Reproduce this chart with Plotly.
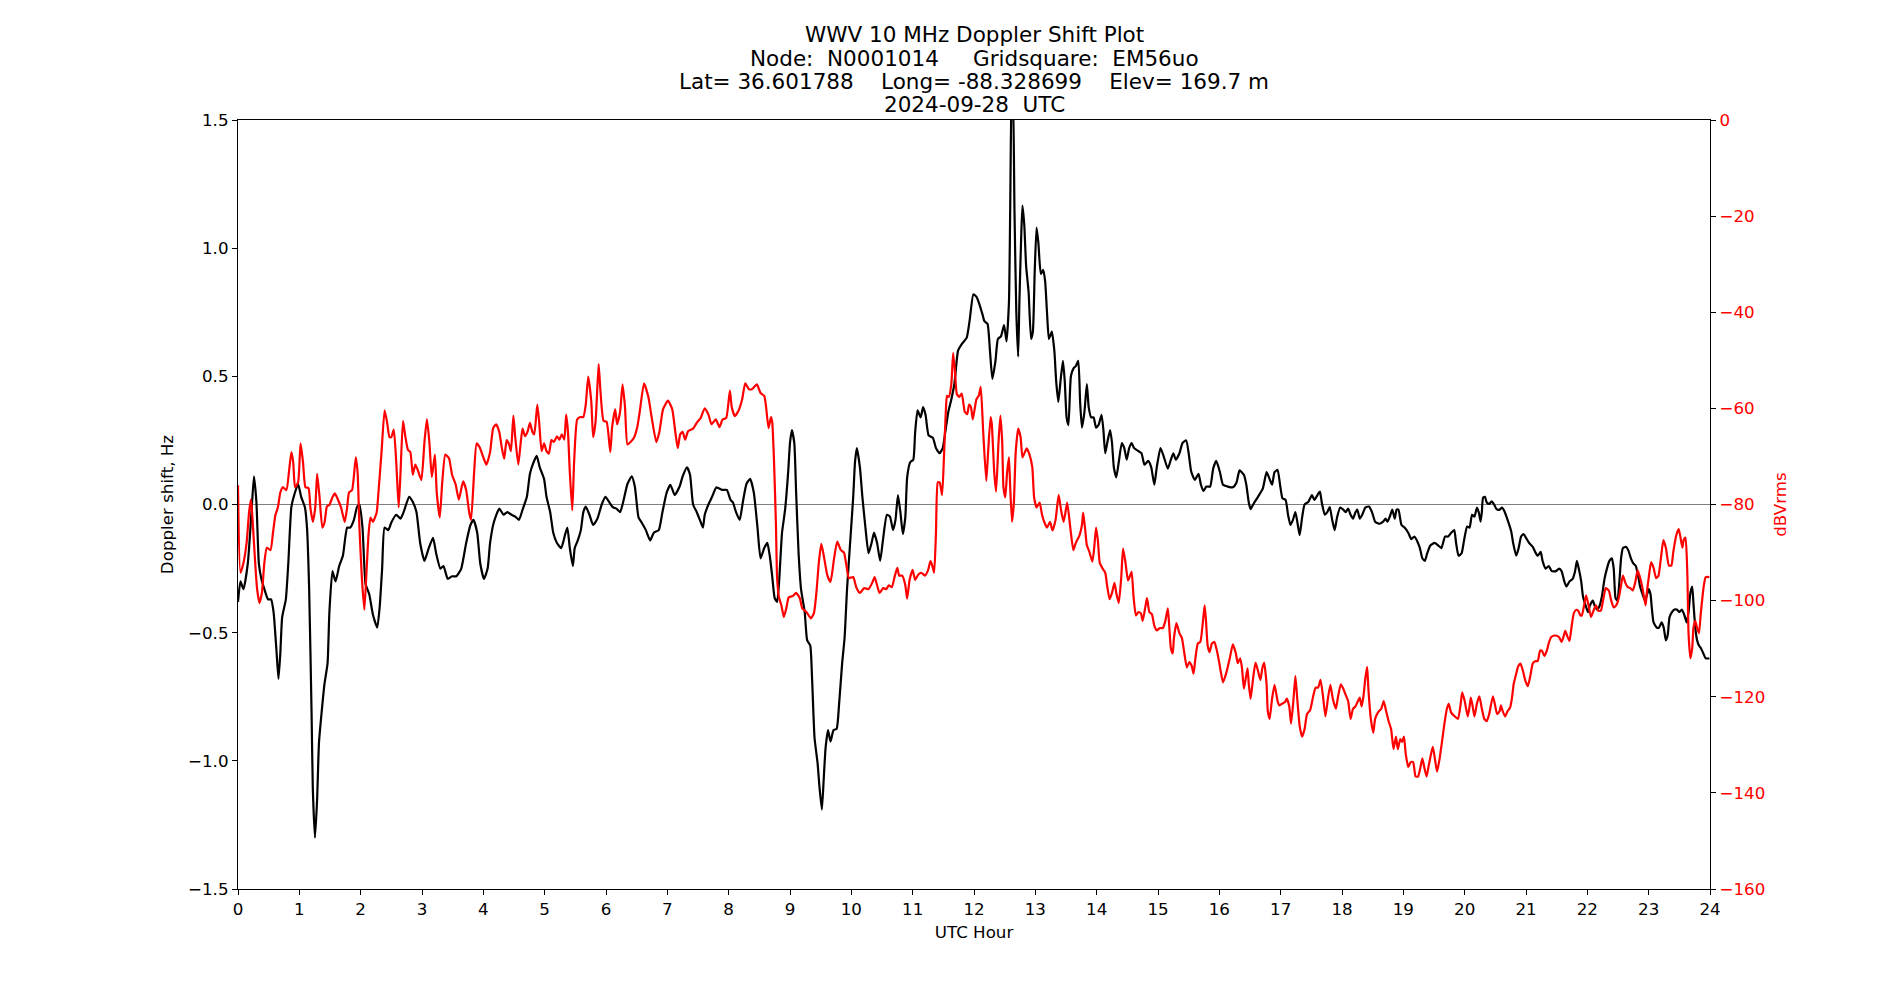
import plotly.graph_objects as go

# ---------------- data ----------------
title_lines = [
    "WWV 10 MHz Doppler Shift Plot",
    "Node:  N0001014     Gridsquare:  EM56uo",
    "Lat= 36.601788    Long= -88.328699    Elev= 169.7 m",
    "2024-09-28  UTC",
]
x_label = "UTC Hour"
y_label = "Doppler shift, Hz"
y2_label = "dBVrms"

x_ticks = list(range(0, 25))
y_ticks = [-1.5, -1.0, -0.5, 0.0, 0.5, 1.0, 1.5]
y2_ticks = [-160, -140, -120, -100, -80, -60, -40, -20, 0]

doppler_hours = [
    0.00, 0.04, 0.09, 0.16, 0.22, 0.26, 0.30, 0.34, 0.38, 0.43, 0.49, 0.54, 0.58, 0.63, 0.66, 0.69, 0.72, 0.78, 0.82, 0.87,
    0.92, 0.98, 1.03, 1.09, 1.125, 1.16, 1.20, 1.22, 1.255, 1.29, 1.32, 1.36, 1.41, 1.46, 1.49, 1.54, 1.59, 1.65, 1.71, 1.78,
    1.83, 1.89, 1.94, 1.98, 2.03, 2.08, 2.14, 2.20, 2.27, 2.31, 2.35, 2.39, 2.45, 2.50, 2.58, 2.65, 2.70, 2.79, 2.85, 2.91,
    2.97, 3.04, 3.11, 3.18, 3.23, 3.30, 3.35, 3.42, 3.49, 3.56, 3.64, 3.72, 3.79, 3.84, 3.90, 3.95, 4.01, 4.07, 4.11, 4.17,
    4.26, 4.33, 4.39, 4.46, 4.52, 4.58, 4.64, 4.71, 4.76, 4.82, 4.87, 4.92, 4.99, 5.03, 5.09, 5.14, 5.20, 5.27, 5.33, 5.37,
    5.41, 5.46, 5.49, 5.54, 5.59, 5.63, 5.67, 5.73, 5.79, 5.86, 5.93, 5.99, 6.05, 6.11, 6.17, 6.23, 6.28, 6.35, 6.42, 6.47,
    6.53, 6.58, 6.65, 6.72, 6.78, 6.86, 6.92, 6.99, 7.05, 7.12, 7.20, 7.25, 7.32, 7.37, 7.42, 7.48, 7.53, 7.58, 7.61, 7.67,
    7.73, 7.80, 7.89, 7.97, 8.03, 8.07, 8.12, 8.18, 8.23, 8.29, 8.35, 8.41, 8.47, 8.52, 8.58, 8.63, 8.67, 8.71, 8.75, 8.79,
    8.82, 8.87, 8.92, 8.97, 9.00, 9.03, 9.07, 9.10, 9.14, 9.18, 9.24, 9.28, 9.33, 9.36, 9.40, 9.45, 9.48, 9.52, 9.55, 9.58,
    9.62, 9.66, 9.71, 9.76, 9.80, 9.85, 9.89, 9.93, 9.98, 10.03, 10.06, 10.09, 10.14, 10.18, 10.23, 10.28, 10.33, 10.37, 10.42, 10.47,
    10.52, 10.58, 10.63, 10.68, 10.72, 10.76, 10.80, 10.84, 10.88, 10.91, 10.96, 11.01, 11.04, 11.08, 11.13, 11.17, 11.21, 11.26, 11.33, 11.38,
    11.44, 11.49, 11.53, 11.58, 11.63, 11.68, 11.74, 11.80, 11.88, 11.93, 11.99, 12.04, 12.09, 12.14, 12.17, 12.22, 12.26, 12.30, 12.35, 12.39,
    12.44, 12.49, 12.53, 12.57, 12.59, 12.61, 12.635, 12.66, 12.69, 12.72, 12.74, 12.77, 12.79, 12.82, 12.85, 12.89, 12.93, 12.96, 12.99, 13.02,
    13.05, 13.09, 13.13, 13.16, 13.19, 13.22, 13.24, 13.27, 13.31, 13.34, 13.375, 13.41, 13.45, 13.48, 13.51, 13.54, 13.58, 13.63, 13.66, 13.70,
    13.73, 13.76, 13.80, 13.84, 13.87, 13.91, 13.95, 13.99, 14.03, 14.08, 14.11, 14.14, 14.18, 14.22, 14.25, 14.28, 14.32, 14.36, 14.41, 14.45,
    14.49, 14.53, 14.57, 14.61, 14.67, 14.73, 14.78, 14.84, 14.89, 14.94, 14.98, 15.04, 15.09, 15.16, 15.21, 15.25, 15.29, 15.35, 15.40, 15.46,
    15.50, 15.54, 15.60, 15.66, 15.70, 15.74, 15.79, 15.85, 15.90, 15.95, 16.01, 16.06, 16.14, 16.22, 16.28, 16.33, 16.40, 16.44, 16.48, 16.51,
    16.57, 16.63, 16.71, 16.77, 16.81, 16.86, 16.90, 16.95, 16.99, 17.03, 17.08, 17.12, 17.16, 17.20, 17.24, 17.28, 17.31, 17.35, 17.39, 17.45,
    17.51, 17.55, 17.60, 17.64, 17.67, 17.72, 17.76, 17.80, 17.84, 17.88, 17.92, 17.97, 18.02, 18.06, 18.10, 18.14, 18.18, 18.22, 18.25, 18.29,
    18.33, 18.38, 18.44, 18.49, 18.54, 18.61, 18.67, 18.71, 18.74, 18.78, 18.82, 18.86, 18.89, 18.92, 18.97, 19.02, 19.08, 19.13, 19.18, 19.23,
    19.27, 19.31, 19.35, 19.39, 19.44, 19.51, 19.57, 19.62, 19.68, 19.73, 19.78, 19.83, 19.86, 19.90, 19.95, 19.99, 20.04, 20.08, 20.12, 20.16,
    20.20, 20.23, 20.26, 20.28, 20.30, 20.33, 20.36, 20.40, 20.44, 20.48, 20.52, 20.57, 20.61, 20.65, 20.70, 20.76, 20.79, 20.84, 20.88, 20.92,
    20.96, 21.00, 21.05, 21.11, 21.15, 21.19, 21.24, 21.27, 21.32, 21.37, 21.42, 21.49, 21.54, 21.58, 21.625, 21.66, 21.71, 21.76, 21.80, 21.83,
    21.86, 21.90, 21.93, 21.98, 22.01, 22.04, 22.09, 22.12, 22.16, 22.20, 22.24, 22.28, 22.32, 22.36, 22.40, 22.43, 22.46, 22.49, 22.52, 22.55,
    22.58, 22.63, 22.67, 22.71, 22.75, 22.79, 22.83, 22.86, 22.90, 22.94, 22.97, 23.00, 23.03, 23.05, 23.08, 23.13, 23.17, 23.21, 23.245, 23.28,
    23.31, 23.34, 23.38, 23.42, 23.46, 23.50, 23.54, 23.58, 23.62, 23.65, 23.68, 23.71, 23.73, 23.76, 23.79, 23.82, 23.85, 23.89, 23.93, 23.99,
]
doppler_hz = [
    -0.38, -0.30, -0.33, -0.23, -0.03, 0.11, 0.01, -0.23, -0.29, -0.33, -0.37, -0.37, -0.42, -0.58, -0.68, -0.58, -0.44, -0.37, -0.23, -0.01,
    0.04, 0.08, 0.03, -0.01, -0.09, -0.33, -0.82, -1.11, -1.30, -1.15, -0.93, -0.82, -0.70, -0.62, -0.42, -0.26, -0.30, -0.24, -0.20, -0.09,
    -0.09, -0.06, -0.01, 0.00, -0.09, -0.31, -0.35, -0.43, -0.48, -0.40, -0.25, -0.09, -0.10, -0.07, -0.04, -0.055, -0.03, 0.03, 0.01, -0.03,
    -0.15, -0.22, -0.17, -0.13, -0.19, -0.25, -0.24, -0.29, -0.28, -0.28, -0.25, -0.15, -0.08, -0.06, -0.11, -0.23, -0.29, -0.25, -0.15, -0.07,
    -0.016, -0.04, -0.03, -0.04, -0.047, -0.06, -0.02, 0.03, 0.12, 0.165, 0.19, 0.145, 0.10, 0.03, -0.03, -0.11, -0.15, -0.17, -0.12, -0.09,
    -0.17, -0.24, -0.17, -0.14, -0.10, -0.03, -0.008, -0.04, -0.08, -0.055, 0.00, 0.03, 0.01, -0.01, -0.016, -0.03, 0.01, 0.08, 0.11, 0.07,
    -0.05, -0.07, -0.10, -0.14, -0.11, -0.10, -0.03, 0.047, 0.077, 0.037, 0.07, 0.11, 0.145, 0.116, 0.00, -0.03, -0.06, -0.09, -0.04, 0.00,
    0.03, 0.067, 0.057, 0.057, 0.018, 0.008, -0.03, -0.06, 0.008, 0.08, 0.10, 0.047, -0.09, -0.21, -0.17, -0.15, -0.20, -0.28, -0.365, -0.38,
    -0.31, -0.11, -0.02, 0.126, 0.24, 0.29, 0.24, 0.047, -0.19, -0.33, -0.42, -0.53, -0.55, -0.68, -0.91, -1.01, -1.10, -1.19, -1.07, -0.95,
    -0.88, -0.925, -0.88, -0.875, -0.78, -0.62, -0.52, -0.33, -0.15, 0.027, 0.165, 0.22, 0.145, 0.03, -0.09, -0.19, -0.15, -0.11, -0.15, -0.22,
    -0.13, -0.04, -0.047, -0.10, -0.06, 0.037, -0.03, -0.115, -0.05, 0.106, 0.165, 0.175, 0.28, 0.367, 0.34, 0.38, 0.35, 0.27, 0.26, 0.22,
    0.20, 0.22, 0.28, 0.36, 0.41, 0.47, 0.60, 0.626, 0.65, 0.72, 0.82, 0.81, 0.78, 0.74, 0.715, 0.705, 0.60, 0.49, 0.56, 0.646,
    0.656, 0.70, 0.636, 0.79, 1.146, 1.55, 1.62, 1.146, 0.75, 0.577, 0.79, 1.05, 1.166, 1.09, 0.93, 0.83, 0.646, 0.675, 0.91, 1.08,
    1.02, 0.90, 0.915, 0.87, 0.75, 0.646, 0.656, 0.675, 0.60, 0.48, 0.40, 0.48, 0.56, 0.48, 0.34, 0.31, 0.50, 0.534, 0.54, 0.56,
    0.40, 0.30, 0.36, 0.47, 0.38, 0.34, 0.34, 0.30, 0.31, 0.35, 0.29, 0.20, 0.25, 0.29, 0.24, 0.145, 0.106, 0.165, 0.24, 0.22,
    0.175, 0.22, 0.24, 0.22, 0.21, 0.20, 0.155, 0.17, 0.145, 0.077, 0.145, 0.22, 0.19, 0.14, 0.175, 0.20, 0.175, 0.20, 0.24, 0.25,
    0.20, 0.13, 0.096, 0.12, 0.077, 0.053, 0.07, 0.07, 0.14, 0.17, 0.126, 0.077, 0.07, 0.067, 0.086, 0.133, 0.116, 0.077, 0.008, -0.018,
    0.008, 0.03, 0.063, 0.126, 0.106, 0.077, 0.126, 0.135, 0.077, 0.024, 0.018, -0.04, -0.08, -0.06, -0.03, -0.08, -0.12, -0.05, 0.00, 0.01,
    0.037, 0.018, 0.037, 0.05, 0.008, -0.04, -0.03, -0.01, -0.06, -0.10, -0.05, -0.012, -0.02, -0.03, -0.016, -0.04, -0.055, -0.03, -0.02, -0.055,
    -0.04, -0.012, -0.008, -0.03, -0.067, -0.075, -0.067, -0.055, -0.067, -0.047, -0.02, -0.055, -0.02, -0.02, -0.08, -0.09, -0.11, -0.135, -0.125, -0.145,
    -0.17, -0.21, -0.22, -0.19, -0.16, -0.15, -0.16, -0.17, -0.125, -0.125, -0.11, -0.10, -0.15, -0.20, -0.19, -0.14, -0.086, -0.09, -0.04, -0.047,
    -0.012, -0.03, -0.067, -0.03, 0.027, 0.03, 0.008, 0.002, 0.012, 0.00, -0.018, -0.02, -0.012, -0.027, -0.06, -0.106, -0.15, -0.20, -0.17, -0.125,
    -0.115, -0.13, -0.15, -0.165, -0.185, -0.20, -0.185, -0.22, -0.25, -0.24, -0.26, -0.26, -0.25, -0.26, -0.30, -0.32, -0.30, -0.29, -0.26, -0.22,
    -0.25, -0.30, -0.36, -0.40, -0.42, -0.395, -0.375, -0.395, -0.41, -0.395, -0.355, -0.29, -0.25, -0.22, -0.21, -0.25, -0.365, -0.375, -0.31, -0.21,
    -0.17, -0.165, -0.18, -0.21, -0.23, -0.24, -0.28, -0.32, -0.35, -0.375, -0.355, -0.33, -0.35, -0.40, -0.46, -0.48, -0.48, -0.46, -0.48, -0.53,
    -0.51, -0.44, -0.42, -0.41, -0.41, -0.42, -0.41, -0.43, -0.46, -0.42, -0.345, -0.32, -0.385, -0.48, -0.53, -0.55, -0.56, -0.58, -0.60, -0.60,
]

power_hours = [
    0.00, 0.04, 0.09, 0.14, 0.18, 0.21, 0.23, 0.27, 0.31, 0.35, 0.39, 0.43, 0.47, 0.53, 0.57, 0.61, 0.65, 0.69, 0.73, 0.79,
    0.83, 0.87, 0.90, 0.93, 0.98, 1.02, 1.06, 1.10, 1.15, 1.18, 1.22, 1.26, 1.29, 1.33, 1.375, 1.41, 1.45, 1.49, 1.54, 1.58,
    1.63, 1.68, 1.74, 1.78, 1.81, 1.86, 1.92, 1.95, 1.98, 2.02, 2.06, 2.09, 2.13, 2.16, 2.20, 2.26, 2.29, 2.34, 2.39, 2.43,
    2.47, 2.50, 2.54, 2.58, 2.62, 2.65, 2.69, 2.73, 2.77, 2.81, 2.85, 2.89, 2.93, 2.99, 3.04, 3.08, 3.12, 3.16, 3.21, 3.24,
    3.29, 3.33, 3.38, 3.44, 3.49, 3.55, 3.60, 3.67, 3.72, 3.77, 3.80, 3.85, 3.89, 3.94, 4.00, 4.05, 4.11, 4.16, 4.21, 4.26,
    4.30, 4.34, 4.38, 4.42, 4.45, 4.49, 4.52, 4.57, 4.61, 4.64, 4.68, 4.72, 4.76, 4.80, 4.83, 4.88, 4.91, 4.95, 4.99, 5.03,
    5.07, 5.11, 5.15, 5.20, 5.24, 5.28, 5.32, 5.35, 5.38, 5.41, 5.45, 5.48, 5.53, 5.58, 5.63, 5.67, 5.71, 5.76, 5.79, 5.83,
    5.88, 5.91, 5.96, 6.01, 6.07, 6.10, 6.15, 6.18, 6.23, 6.27, 6.31, 6.35, 6.40, 6.46, 6.51, 6.55, 6.62, 6.69, 6.75, 6.82,
    6.87, 6.93, 7.01, 7.08, 7.13, 7.17, 7.21, 7.25, 7.29, 7.34, 7.42, 7.49, 7.54, 7.61, 7.67, 7.72, 7.79, 7.85, 7.90, 7.96,
    8.02, 8.05, 8.10, 8.16, 8.22, 8.27, 8.33, 8.38, 8.46, 8.52, 8.58, 8.61, 8.65, 8.69, 8.71, 8.74, 8.77, 8.79, 8.82, 8.86,
    8.90, 8.94, 8.98, 9.05, 9.10, 9.16, 9.20, 9.27, 9.34, 9.39, 9.43, 9.47, 9.51, 9.55, 9.61, 9.66, 9.72, 9.77, 9.83, 9.88,
    9.92, 9.96, 10.03, 10.08, 10.14, 10.21, 10.28, 10.34, 10.38, 10.42, 10.46, 10.52, 10.57, 10.61, 10.66, 10.71, 10.75, 10.78, 10.83, 10.88,
    10.91, 10.95, 11.00, 11.04, 11.09, 11.14, 11.20, 11.25, 11.29, 11.32, 11.35, 11.38, 11.41, 11.44, 11.48, 11.51, 11.54, 11.56, 11.59, 11.63,
    11.66, 11.69, 11.72, 11.76, 11.80, 11.85, 11.89, 11.92, 11.95, 11.98, 12.01, 12.04, 12.08, 12.11, 12.15, 12.20, 12.23, 12.27, 12.29, 12.33,
    12.36, 12.40, 12.43, 12.46, 12.48, 12.51, 12.54, 12.57, 12.59, 12.62, 12.65, 12.68, 12.72, 12.76, 12.79, 12.83, 12.86, 12.90, 12.95, 12.98,
    13.02, 13.07, 13.11, 13.15, 13.19, 13.24, 13.28, 13.33, 13.38, 13.42, 13.46, 13.49, 13.52, 13.57, 13.62, 13.66, 13.72, 13.76, 13.78, 13.81,
    13.84, 13.88, 13.93, 13.96, 13.99, 14.02, 14.05, 14.10, 14.14, 14.17, 14.21, 14.25, 14.29, 14.32, 14.36, 14.40, 14.43, 14.47, 14.51, 14.53,
    14.57, 14.60, 14.64, 14.68, 14.72, 14.75, 14.79, 14.82, 14.86, 14.90, 14.94, 14.98, 15.03, 15.08, 15.12, 15.16, 15.18, 15.21, 15.24, 15.26,
    15.30, 15.35, 15.39, 15.43, 15.47, 15.51, 15.55, 15.58, 15.61, 15.65, 15.69, 15.73, 15.76, 15.78, 15.81, 15.84, 15.88, 15.92, 15.96, 16.00,
    16.06, 16.11, 16.17, 16.22, 16.27, 16.30, 16.34, 16.37, 16.40, 16.43, 16.46, 16.48, 16.51, 16.55, 16.59, 16.63, 16.67, 16.70, 16.73, 16.77,
    16.79, 16.82, 16.86, 16.90, 16.95, 16.98, 17.03, 17.07, 17.10, 17.14, 17.17, 17.21, 17.24, 17.27, 17.31, 17.35, 17.39, 17.43, 17.48, 17.53,
    17.57, 17.61, 17.65, 17.69, 17.73, 17.77, 17.81, 17.85, 17.90, 17.93, 17.98, 18.02, 18.05, 18.10, 18.14, 18.18, 18.22, 18.26, 18.29, 18.32,
    18.35, 18.38, 18.41, 18.43, 18.47, 18.51, 18.54, 18.59, 18.64, 18.68, 18.72, 18.76, 18.80, 18.84, 18.88, 18.91, 18.95, 18.98, 19.01, 19.04,
    19.08, 19.12, 19.16, 19.20, 19.24, 19.28, 19.31, 19.34, 19.38, 19.41, 19.45, 19.48, 19.51, 19.55, 19.59, 19.63, 19.67, 19.71, 19.74, 19.78,
    19.84, 19.89, 19.93, 19.96, 20.00, 20.05, 20.08, 20.10, 20.13, 20.16, 20.20, 20.24, 20.28, 20.32, 20.36, 20.40, 20.46, 20.49, 20.53, 20.57,
    20.59, 20.62, 20.66, 20.70, 20.74, 20.77, 20.80, 20.84, 20.875, 20.91, 20.95, 20.99, 21.03, 21.07, 21.11, 21.15, 21.19, 21.23, 21.26, 21.30,
    21.34, 21.37, 21.41, 21.45, 21.50, 21.54, 21.58, 21.61, 21.64, 21.67, 21.71, 21.74, 21.78, 21.82, 21.85, 21.89, 21.91, 21.95, 21.98, 22.02,
    22.06, 22.10, 22.14, 22.18, 22.22, 22.26, 22.30, 22.35, 22.39, 22.43, 22.47, 22.51, 22.55, 22.58, 22.62, 22.66, 22.70, 22.74, 22.78, 22.82,
    22.85, 22.89, 22.92, 22.95, 22.97, 23.00, 23.04, 23.08, 23.12, 23.16, 23.20, 23.24, 23.28, 23.33, 23.37, 23.40, 23.45, 23.49, 23.52, 23.55,
    23.57, 23.60, 23.63, 23.65, 23.68, 23.71, 23.73, 23.76, 23.79, 23.82, 23.85, 23.90, 23.93, 23.99,
]
power_dbv = [
    -76.0, -94.2, -92.1, -88.0, -81.7, -79.0, -81.7, -90.0, -97.4, -100.5, -98.4, -92.1, -89.0, -89.5, -85.9, -82.2, -80.6, -77.5, -76.4, -77.0,
    -73.3, -69.1, -71.2, -76.4, -75.4, -67.3, -71.2, -76.4, -76.6, -80.6, -83.6, -80.6, -73.6, -78.5, -84.8, -83.8, -80.4, -80.1, -78.5, -77.7,
    -79.0, -80.6, -83.6, -80.6, -77.5, -77.0, -70.2, -73.3, -84.8, -95.3, -101.9, -95.3, -85.9, -82.7, -83.6, -81.7, -77.5, -69.1, -60.4, -62.8,
    -66.0, -66.0, -64.4, -71.2, -80.6, -73.3, -62.6, -66.0, -68.6, -69.1, -73.8, -71.7, -72.8, -74.9, -67.0, -62.3, -67.0, -74.3, -69.6, -77.5,
    -82.7, -75.4, -69.6, -70.4, -73.8, -75.9, -79.0, -75.2, -77.0, -81.7, -83.2, -73.3, -67.3, -68.1, -70.2, -71.7, -69.1, -64.1, -63.3, -64.9,
    -68.1, -70.5, -66.6, -67.5, -68.9, -61.5, -66.0, -71.7, -67.0, -64.2, -65.8, -64.9, -63.0, -64.9, -65.4, -59.2, -62.8, -68.9, -67.3, -68.9,
    -69.4, -66.6, -67.0, -65.8, -66.5, -65.4, -66.5, -61.3, -64.9, -73.3, -81.2, -71.2, -62.3, -61.8, -61.8, -59.2, -53.4, -58.6, -66.0, -62.8,
    -50.8, -56.5, -62.6, -62.8, -69.1, -63.9, -60.2, -63.3, -60.7, -55.0, -59.7, -67.5, -67.0, -66.0, -63.9, -60.7, -54.8, -57.6, -62.3, -67.0,
    -64.9, -60.2, -58.4, -60.2, -64.9, -68.3, -65.4, -64.9, -66.5, -64.7, -64.2, -62.8, -62.1, -60.0, -61.3, -63.3, -62.3, -63.9, -62.3, -62.0,
    -56.3, -59.7, -61.6, -60.5, -58.1, -54.8, -56.0, -56.0, -55.0, -56.8, -57.4, -59.7, -64.1, -61.8, -62.8, -71.2, -83.8, -95.3, -99.3, -101.0,
    -103.4, -101.6, -99.3, -99.0, -98.4, -99.5, -101.6, -102.4, -103.7, -102.6, -98.4, -92.1, -88.2, -90.6, -94.8, -96.1, -91.1, -87.7, -89.5, -90.0,
    -92.7, -95.3, -95.1, -97.2, -98.4, -97.4, -97.6, -96.3, -95.1, -96.8, -98.4, -97.4, -97.6, -96.8, -97.2, -94.8, -93.2, -94.8, -94.8, -96.8,
    -99.6, -95.7, -93.6, -95.7, -94.6, -94.2, -94.8, -93.7, -91.8, -92.7, -94.2, -85.9, -75.4, -75.4, -78.0, -70.2, -60.7, -57.4, -57.6, -55.0,
    -48.5, -52.4, -57.0, -57.6, -56.9, -60.7, -61.2, -59.2, -59.7, -62.3, -60.2, -58.1, -57.3, -55.5, -64.9, -75.1, -69.1, -61.8, -63.3, -73.3,
    -77.3, -67.0, -61.5, -67.0, -76.4, -78.5, -73.3, -70.2, -76.4, -83.6, -79.6, -69.1, -64.2, -66.0, -70.2, -69.1, -68.3, -69.4, -72.2, -78.5,
    -80.6, -79.6, -82.2, -83.8, -84.8, -83.6, -85.4, -83.2, -78.0, -81.2, -83.6, -81.7, -79.6, -84.8, -89.5, -88.0, -86.4, -84.3, -81.7, -84.8,
    -88.5, -89.8, -91.9, -89.0, -84.8, -87.5, -92.1, -93.4, -94.2, -96.8, -99.7, -98.4, -96.3, -98.4, -100.5, -95.3, -89.2, -92.1, -95.8, -95.3,
    -94.0, -99.0, -103.1, -102.4, -102.6, -104.2, -101.6, -99.5, -102.4, -102.8, -105.2, -106.2, -105.7, -105.7, -104.2, -101.6, -104.7, -109.9, -111.0, -107.8,
    -104.7, -106.8, -107.8, -111.0, -113.9, -112.8, -113.6, -115.2, -112.0, -108.9, -108.6, -104.7, -101.0, -103.7, -109.4, -110.7, -108.9, -108.6, -110.4, -113.0,
    -117.0, -115.2, -112.0, -109.1, -111.0, -113.0, -112.0, -114.1, -118.3, -116.2, -114.1, -117.3, -120.4, -116.2, -112.9, -114.6, -116.5, -114.1, -112.9, -117.3,
    -123.0, -124.6, -120.4, -117.5, -120.9, -121.8, -121.4, -121.1, -120.4, -122.0, -125.6, -120.4, -115.7, -120.4, -126.1, -128.3, -126.7, -123.6, -122.8, -119.9,
    -118.1, -118.1, -116.5, -119.9, -124.1, -120.4, -117.5, -120.4, -122.5, -120.4, -117.4, -118.3, -119.3, -120.9, -124.6, -122.5, -122.0, -120.9, -120.2, -122.0,
    -119.9, -116.2, -113.8, -118.3, -124.6, -127.5, -124.6, -123.2, -122.5, -120.9, -123.0, -125.1, -126.7, -130.9, -128.3, -130.9, -128.8, -129.4, -128.3, -132.0,
    -134.6, -133.6, -133.6, -136.6, -136.6, -134.6, -132.8, -134.6, -136.6, -134.6, -132.0, -130.4, -132.5, -135.6, -133.0, -129.4, -125.6, -122.5, -121.5, -123.3,
    -124.1, -124.6, -122.0, -119.1, -120.9, -124.1, -122.0, -120.2, -122.0, -124.1, -121.4, -119.9, -122.5, -124.6, -125.1, -123.6, -119.9, -121.4, -123.6, -123.0,
    -121.8, -123.0, -124.1, -123.0, -122.3, -120.4, -117.3, -115.2, -113.6, -113.1, -114.6, -116.7, -117.8, -115.7, -113.1, -112.6, -112.6, -110.4, -110.4, -111.5,
    -110.4, -108.9, -107.6, -107.3, -107.3, -107.6, -108.6, -107.6, -106.3, -107.3, -108.4, -105.7, -102.6, -101.9, -102.1, -103.1, -103.1, -100.8, -98.9, -101.0,
    -103.4, -102.1, -101.0, -102.1, -102.1, -99.7, -97.4, -97.9, -100.0, -101.4, -101.0, -99.6, -96.8, -94.8, -96.3, -97.2, -97.4, -97.9, -96.3, -93.7,
    -94.8, -96.8, -98.9, -101.0, -98.4, -95.3, -92.0, -93.2, -95.3, -94.8, -91.1, -87.4, -89.0, -92.7, -92.7, -90.0, -86.4, -85.1, -86.9, -89.0,
    -87.4, -86.9, -94.2, -106.8, -112.0, -109.9, -105.7, -104.2, -105.7, -106.8, -102.6, -96.8, -95.1, -95.1,
]

# ---------------- figure ----------------
FONT = "DejaVu Sans"
TICK_SIZE = 16.7
TITLE_SIZE = 21.5

fig = go.Figure()
fig.add_trace(go.Scatter(
    x=doppler_hours, y=doppler_hz, mode="lines", yaxis="y",
    line=dict(color="black", width=2.2, shape="spline", smoothing=0.5),
    showlegend=False, hoverinfo="x+y",
))
fig.add_trace(go.Scatter(
    x=power_hours, y=power_dbv, mode="lines", yaxis="y2",
    line=dict(color="red", width=2.2, shape="spline", smoothing=0.5),
    showlegend=False, hoverinfo="x+y",
))

axis_common = dict(
    showgrid=False, ticks="outside", ticklen=5, tickwidth=1, tickcolor="black",
    showline=True, linecolor="black", linewidth=1.2, automargin=False,
)

fig.update_layout(
    width=1900, height=1000, autosize=False,
    paper_bgcolor="white", plot_bgcolor="white",
    margin=dict(l=238, r=190, t=120, b=111, pad=0),
    font=dict(family=FONT, size=TICK_SIZE, color="black"),
    xaxis=dict(
        range=[0, 24], tickvals=x_ticks, zeroline=False, mirror=True,
        title=dict(text=x_label, font=dict(size=TICK_SIZE), standoff=8),
        **axis_common,
    ),
    yaxis=dict(
        range=[-1.5, 1.5], tickvals=y_ticks, tickformat=".1f",
        zeroline=True, zerolinecolor="#808080", zerolinewidth=1.2,
        title=dict(text=y_label, font=dict(size=TICK_SIZE), standoff=10),
        **axis_common,
    ),
    yaxis2=dict(
        range=[-160, 0], tickvals=y2_ticks, overlaying="y", side="right",
        zeroline=False, tickfont=dict(color="red"),
        title=dict(text=y2_label, font=dict(size=TICK_SIZE, color="red"), standoff=10),
        **axis_common,
    ),
)

# title, one annotation per line (line spacing as in the reference)
title_y_px = [35.0, 58.0, 81.0, 104.5]
plot_top, plot_bottom = 120, 889
for text, ypx in zip(title_lines, title_y_px):
    fig.add_annotation(
        text=text, xref="paper", yref="paper", x=0.5,
        y=(plot_bottom - ypx) / (plot_bottom - plot_top),
        xanchor="center", yanchor="middle", showarrow=False,
        font=dict(family=FONT, size=TITLE_SIZE, color="black"),
    )

fig.write_html("out.html")
